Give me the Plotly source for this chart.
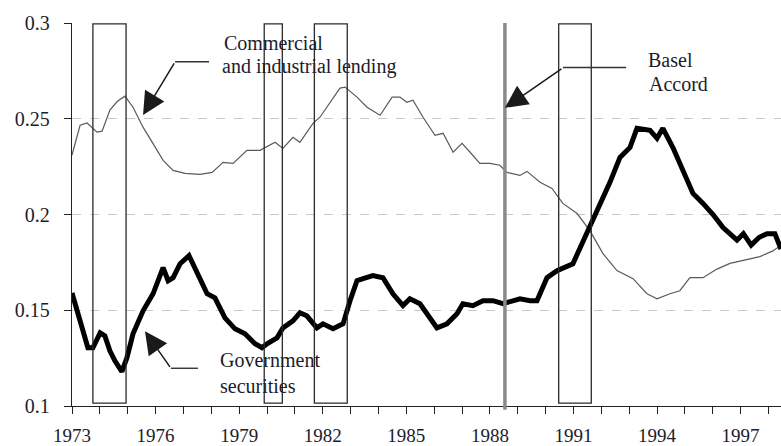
import plotly.graph_objects as go

# ---------------- data ----------------
ci_years = [1973.00, 1973.29, 1973.54, 1973.90, 1974.08, 1974.36, 1974.62, 1974.90,
            1975.19, 1975.55, 1975.91, 1976.27, 1976.63, 1977.06, 1977.59, 1978.03,
            1978.42, 1978.78, 1979.28, 1979.75, 1980.29, 1980.57, 1980.93, 1981.18,
            1981.65, 1981.90, 1982.62, 1982.80, 1983.23, 1983.59, 1984.06, 1984.49,
            1984.77, 1985.02, 1985.24, 1985.60, 1986.03, 1986.32, 1986.68, 1987.00,
            1987.29, 1987.64, 1988.00, 1988.36, 1988.61, 1989.08, 1989.33, 1989.80,
            1990.23, 1990.62, 1991.13, 1991.59, 1992.06, 1992.56, 1993.14, 1993.64,
            1994.00, 1994.46, 1994.82, 1995.18, 1995.65, 1996.15, 1996.62, 1997.23,
            1997.69, 1998.16, 1998.45]
ci_values = [0.231, 0.2466, 0.2478, 0.243, 0.2435, 0.2545, 0.259, 0.2618,
             0.256, 0.2456, 0.237, 0.2283, 0.223, 0.2215, 0.221, 0.222,
             0.2272, 0.2267, 0.2335, 0.2335, 0.2377, 0.2345, 0.2403, 0.2377,
             0.2476, 0.2508, 0.266, 0.2665, 0.2613, 0.256, 0.2518, 0.2613,
             0.2613, 0.2586, 0.2597, 0.2508, 0.2414, 0.2424, 0.2325, 0.2372,
             0.2325, 0.2267, 0.2267, 0.2257, 0.222, 0.2204, 0.2225, 0.2168,
             0.2136, 0.2058, 0.2005, 0.1916, 0.1796, 0.1707, 0.1665, 0.1586,
             0.156, 0.1586, 0.1602, 0.167, 0.167, 0.1715, 0.1745, 0.1765,
             0.178, 0.181, 0.184]

gov_years = [1973.00, 1973.14, 1973.29, 1973.57, 1973.75, 1974.01, 1974.18, 1974.36,
             1974.54, 1974.79, 1974.97, 1975.19, 1975.55, 1975.91, 1976.27, 1976.45,
             1976.63, 1976.88, 1977.20, 1977.59, 1977.85, 1978.13, 1978.49, 1978.85,
             1979.21, 1979.57, 1979.82, 1980.00, 1980.36, 1980.57, 1980.93, 1981.18,
             1981.43, 1981.79, 1982.01, 1982.37, 1982.73, 1982.98, 1983.23, 1983.45,
             1983.80, 1984.16, 1984.52, 1984.88, 1985.13, 1985.49, 1985.85, 1986.10,
             1986.46, 1986.82, 1987.03, 1987.39, 1987.75, 1988.11, 1988.47, 1988.83,
             1989.08, 1989.44, 1989.69, 1990.05, 1990.41, 1990.98, 1991.23, 1991.59,
             1991.95, 1992.31, 1992.67, 1993.03, 1993.28, 1993.75, 1994.00, 1994.21,
             1994.57, 1994.93, 1995.29, 1995.65, 1996.01, 1996.37, 1996.87, 1997.10,
             1997.38, 1997.66, 1997.95, 1998.23, 1998.45]
gov_values = [0.159, 0.152, 0.1445, 0.1304, 0.1304, 0.1382, 0.1366, 0.1288,
              0.1236, 0.118, 0.1251, 0.1377, 0.1497, 0.1586, 0.1723, 0.1654,
              0.167, 0.1743, 0.1785, 0.167, 0.1586, 0.1565, 0.146, 0.1403,
              0.1377, 0.1325, 0.1304, 0.1325, 0.1356, 0.1408, 0.1445, 0.1487,
              0.1471, 0.1408, 0.1429, 0.1403, 0.1429, 0.155, 0.1654, 0.1665,
              0.1681, 0.167, 0.1586, 0.1524, 0.156, 0.1534, 0.146, 0.1408,
              0.1429, 0.1482, 0.1534, 0.1524, 0.155, 0.155, 0.1534, 0.155,
              0.156, 0.155, 0.155, 0.167, 0.1707, 0.1743, 0.1822, 0.1932,
              0.2058, 0.2168, 0.2298, 0.235, 0.245, 0.244, 0.2398, 0.245,
              0.235, 0.223, 0.211, 0.2058, 0.2, 0.1932, 0.1866, 0.19,
              0.184, 0.188, 0.19, 0.19, 0.182]

recession_starts = [1973.75, 1979.90, 1981.70, 1990.47]
recession_ends = [1974.94, 1980.55, 1982.88, 1991.64]
basel_year = 1988.54

x_tick_vals = [1973, 1976, 1979, 1982, 1985, 1988, 1991, 1994, 1997]
x_tick_text = ["1973", "1976", "1979", "1982", "1985", "1988", "1991", "1994", "1997"]
y_tick_vals = [0.1, 0.15, 0.2, 0.25, 0.3]
y_tick_text = ["0.1", "0.15", "0.2", "0.25", "0.3"]

FONT = "Liberation Serif, Times New Roman, serif"
TXT = "#1c1c2c"

fig = go.Figure()

fig.add_trace(go.Scatter(x=ci_years, y=ci_values, mode="lines",
                         line=dict(color="#5a5a5a", width=1.2), showlegend=False))
fig.add_trace(go.Scatter(x=gov_years, y=gov_values, mode="lines",
                         line=dict(color="#000000", width=5), showlegend=False))

shapes = []
for s, e in zip(recession_starts, recession_ends):
    shapes.append(dict(type="rect", xref="x", yref="y", x0=s, x1=e, y0=0.1015, y1=0.2995,
                       line=dict(color="#2a2a2a", width=1.3), fillcolor="rgba(0,0,0,0)",
                       layer="above"))
shapes.append(dict(type="line", xref="x", yref="paper", x0=basel_year, x1=basel_year,
                   y0=-0.01, y1=1.0, line=dict(color="#8a8a8a", width=3.5), layer="above"))
# horizontal leader lines of the callouts
shapes.append(dict(type="line", xref="x", yref="y", x0=1976.70, x1=1977.92, y0=0.2798, y1=0.2798,
                   line=dict(color="#333333", width=1.4)))
shapes.append(dict(type="line", xref="x", yref="y", x0=1976.55, x1=1977.52, y0=0.1197, y1=0.1197,
                   line=dict(color="#333333", width=1.4)))
shapes.append(dict(type="line", xref="x", yref="y", x0=1990.62, x1=1992.89, y0=0.2768, y1=0.2768,
                   line=dict(color="#333333", width=1.4)))

annotations = []
def arrow(x, y, ax, ay):
    annotations.append(dict(x=x, y=y, xref="x", yref="y", ax=ax, ay=ay, text="",
                            showarrow=True, arrowhead=2, arrowsize=3.0, arrowwidth=1.5,
                            arrowcolor="#1a1a1a"))
arrow(1975.55, 0.252, 32, -53)
arrow(1975.62, 0.139, 26, 37)
arrow(1988.54, 0.2557, 58, -40)

def label(x, y, t):
    annotations.append(dict(x=x, y=y, xref="x", yref="y", text=t, showarrow=False,
                            xanchor="left", yanchor="middle",
                            font=dict(family=FONT, size=20, color=TXT)))
label(1978.38, 0.2897, "Commercial")
label(1978.31, 0.2771, "and industrial lending")
label(1978.24, 0.1239, "Government")
label(1978.24, 0.1104, "securities")
label(1993.60, 0.2808, "Basel")
label(1993.64, 0.2683, "Accord")

fig.update_layout(
    width=781, height=446,
    margin=dict(l=72, r=0, t=23, b=40, autoexpand=False),
    plot_bgcolor="white", paper_bgcolor="white",
    shapes=shapes, annotations=annotations,
    font=dict(family=FONT, size=19, color=TXT),
    xaxis=dict(range=[1973, 1998.45], tickmode="array", tickvals=x_tick_vals,
               ticktext=x_tick_text, ticks="outside", ticklen=7, tickwidth=1.3,
               tickcolor="#222", showline=True, linecolor="#222", linewidth=1.3,
               showgrid=False, zeroline=False, ticklabelstandoff=5, automargin=False,
               minor=dict(dtick=1, tick0=1973, ticks="outside", ticklen=7,
                          tickwidth=1.3, tickcolor="#222", showgrid=False),
               tickfont=dict(family=FONT, size=19, color=TXT)),
    yaxis=dict(range=[0.1, 0.3], tickmode="array", tickvals=y_tick_vals,
               ticktext=y_tick_text, ticks="outside", ticklen=7, tickwidth=1.3,
               tickcolor="#222", showline=True, linecolor="#222", linewidth=1.3,
               showgrid=True, gridcolor="#c8c8c8", gridwidth=1.3, griddash="dash",
               zeroline=False, ticklabelstandoff=10, automargin=False,
               tickfont=dict(family=FONT, size=20, color=TXT)),
)

fig.write_html("out.html", config={"displayModeBar": False},
               post_script="document.body.style.margin='0';")
